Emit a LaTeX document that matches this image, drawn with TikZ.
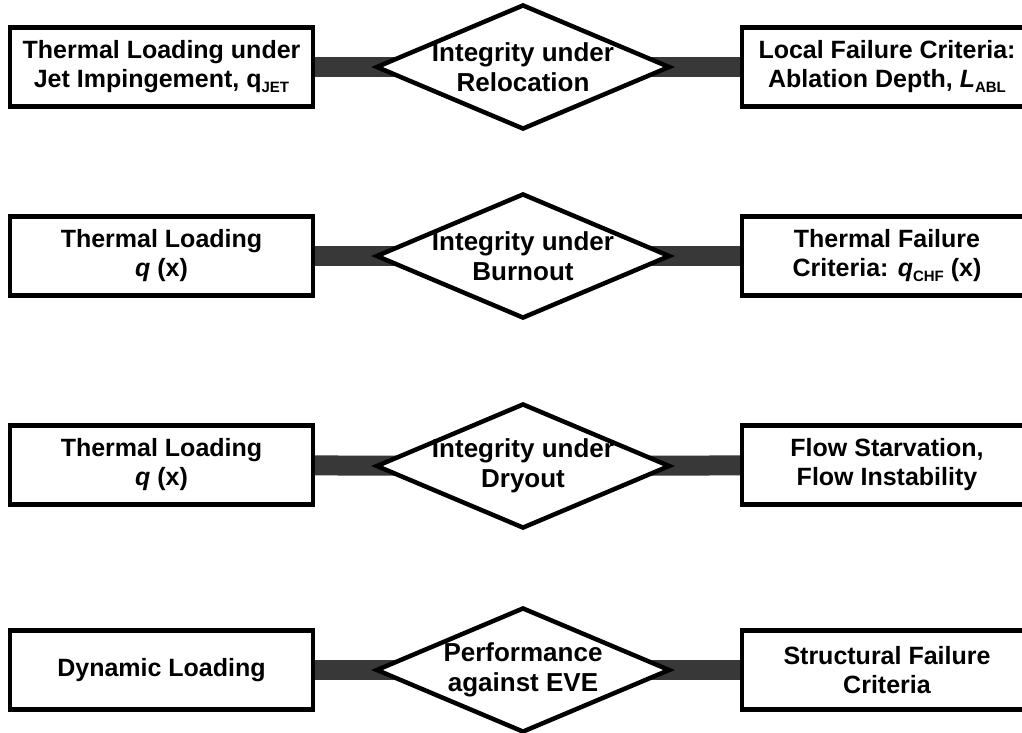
\documentclass[tikz,border=0pt]{standalone}
\usepackage{fontspec}
\setmainfont{Liberation Sans}
\usetikzlibrary{shapes.geometric,backgrounds}
\newcommand{\lowsub}[1]{\raisebox{-5pt}{\fontsize{15}{15}\selectfont #1}}
\tikzset{
  every node/.style={font=\bfseries\fontsize{25}{29}\selectfont, align=center, text=black},
  leftbox/.style={draw=black, line width=4.5pt, fill=white, minimum width=303pt, minimum height=79pt, inner sep=0pt},
  rightbox/.style={draw=black, line width=4.5pt, fill=white, minimum width=290pt, minimum height=79pt, inner sep=0pt},
  decision/.style={diamond, draw=black, line width=4.5pt, fill=white, minimum width=294pt, minimum height=125pt, aspect=2.35, inner sep=-14pt, font=\bfseries\fontsize{26}{30}\selectfont},
  bar/.style={draw=black!78, line width=20pt}
}
\begin{document}
\begin{tikzpicture}[x=1pt,y=-1pt]
\useasboundingbox (0,0) rectangle (1022,732);
% row 1
\node[leftbox] (l1) at (161.5,67) {Thermal Loading under\\Jet Impingement, q\lowsub{JET}};
\node[decision] (d1) at (523,67) {Integrity under\\Relocation};
\node[rightbox] (r1) at (887,67) {Local Failure Criteria:\\Ablation Depth, \textit{L}\lowsub{ABL}};
% row 2
\node[leftbox] (l2) at (161.5,256) {Thermal Loading\\\textit{q} (x)};
\node[decision] (d2) at (523,256) {Integrity under\\Burnout};
\node[rightbox] (r2) at (887,256) {Thermal Failure\\Criteria: \textit{q}\lowsub{CHF} (x)};
% row 3
\node[leftbox] (l3) at (161.5,465) {Thermal Loading\\\textit{q} (x)};
\node[decision] (d3) at (523,466) {Integrity under\\Dryout};
\node[rightbox] (r3) at (887,465) {Flow Starvation,\\Flow Instability};
% row 4
\node[leftbox] (l4) at (161.5,670) {Dynamic Loading};
\node[decision] (d4) at (523,670) {Performance\\against EVE};
\node[rightbox] (r4) at (887,670) {Structural Failure\\Criteria};
\begin{pgfonlayer}{background}
\fill[white] (0,0) rectangle (1022,732);
\foreach \i in {1,2,3,4}{
  \draw[bar] (l\i.center) -- (d\i.center);
  \draw[bar] (d\i.center) -- (r\i.center);
}
\end{pgfonlayer}
\end{tikzpicture}
\end{document}
